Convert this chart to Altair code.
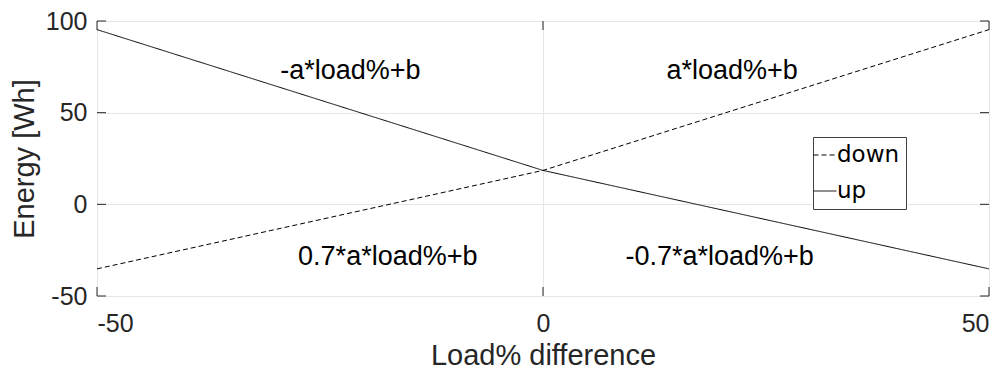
import altair as alt
import pandas as pd

# ---- data ----
load = [-50, 0, 50]
down = [-35.2, 18.5, 95.3]
up = [95.3, 18.5, -35.2]
series = ["down", "up"]

ann_x = [-21.6, 21.2, -17.4, 19.8]
ann_y = [68.2, 68.2, -33.3, -33.3]
ann_text = ["-a*load%+b", "a*load%+b", "0.7*a*load%+b", "-0.7*a*load%+b"]

xticks = [-50, 0, 50]
yticks = [-50, 0, 50, 100]

W, H = 892, 275
TXT = "#262626"
FONT = "Liberation Sans"
LABEL_EXPR = "datum.value < 0 ? '-' + abs(datum.value) : '' + datum.value"

rows = []
for s, vals in (("down", down), ("up", up)):
    for xv, yv in zip(load, vals):
        rows.append({"load": xv, "energy": yv, "series": s})
df = pd.DataFrame(rows)
ann = pd.DataFrame({"x": ann_x, "y": ann_y, "t": ann_text})
xt = pd.DataFrame({"v": xticks})
yt = pd.DataFrame({"v": yticks})

xscale = alt.Scale(domain=[-50, 50], nice=False, zero=False)
yscale = alt.Scale(domain=[-50, 100], nice=False, zero=False)

lines = alt.Chart(df).mark_line(color="black", strokeWidth=1).encode(
    x=alt.X("load:Q", scale=xscale,
            axis=alt.Axis(values=xticks, title="Load% difference", grid=True,
                          gridColor="#e6e6e6", ticks=False, domain=False,
                          labelExpr=LABEL_EXPR,
                          labelFont=FONT, labelFontSize=25, labelColor=TXT,
                          labelPadding=15, titleFont=FONT, titleFontSize=29,
                          titleFontWeight="normal", titleColor=TXT, titlePadding=5)),
    y=alt.Y("energy:Q", scale=yscale,
            axis=alt.Axis(values=yticks, title="Energy [Wh]", grid=True,
                          gridColor="#e6e6e6", ticks=False, domain=False,
                          labelExpr=LABEL_EXPR,
                          labelFont=FONT, labelFontSize=25, labelColor=TXT,
                          labelPadding=10, titleFont=FONT, titleFontSize=29,
                          titleFontWeight="normal", titleColor=TXT, titlePadding=6)),
    strokeDash=alt.StrokeDash(
        "series:N",
        scale=alt.Scale(domain=series, range=[[5, 3], [1, 0]]),
        legend=alt.Legend(title=None, orient="none", legendX=716, legendY=116,
                          symbolType="stroke", symbolSize=529, symbolStrokeWidth=1,
                          symbolStrokeColor="black", symbolOffset=-6,
                          labelFont="DejaVu Sans", labelFontSize=23,
                          labelColor="black", labelOffset=0,
                          padding=6, rowPadding=12, strokeColor="#404040",
                          fillColor="white"),
    ),
)

texts = alt.Chart(ann).mark_text(font=FONT, fontSize=27, baseline="alphabetic",
                                 align="center", color="black").encode(
    x=alt.X("x:Q", scale=xscale), y=alt.Y("y:Q", scale=yscale), text="t:N")

xt_top = alt.Chart(xt).mark_rule(color=TXT, strokeWidth=1).encode(
    x=alt.X("v:Q", scale=xscale), y=alt.value(0), y2=alt.value(9))
xt_bot = alt.Chart(xt).mark_rule(color=TXT, strokeWidth=1).encode(
    x=alt.X("v:Q", scale=xscale), y=alt.value(H - 9), y2=alt.value(H))
yt_left = alt.Chart(yt).mark_rule(color=TXT, strokeWidth=1).encode(
    y=alt.Y("v:Q", scale=yscale), x=alt.value(0), x2=alt.value(9))
yt_right = alt.Chart(yt).mark_rule(color=TXT, strokeWidth=1).encode(
    y=alt.Y("v:Q", scale=yscale), x=alt.value(W - 9), x2=alt.value(W))

chart = alt.layer(lines, texts, xt_top, xt_bot, yt_left, yt_right).properties(
    width=W, height=H,
    autosize=alt.AutoSizeParams(type="none"),
    padding={"left": 89, "top": 13, "right": 9, "bottom": 75},
).configure_view(stroke=TXT, strokeWidth=1).configure(background="white")

chart.save("out.html", embed_options={"renderer": "svg", "actions": False})
